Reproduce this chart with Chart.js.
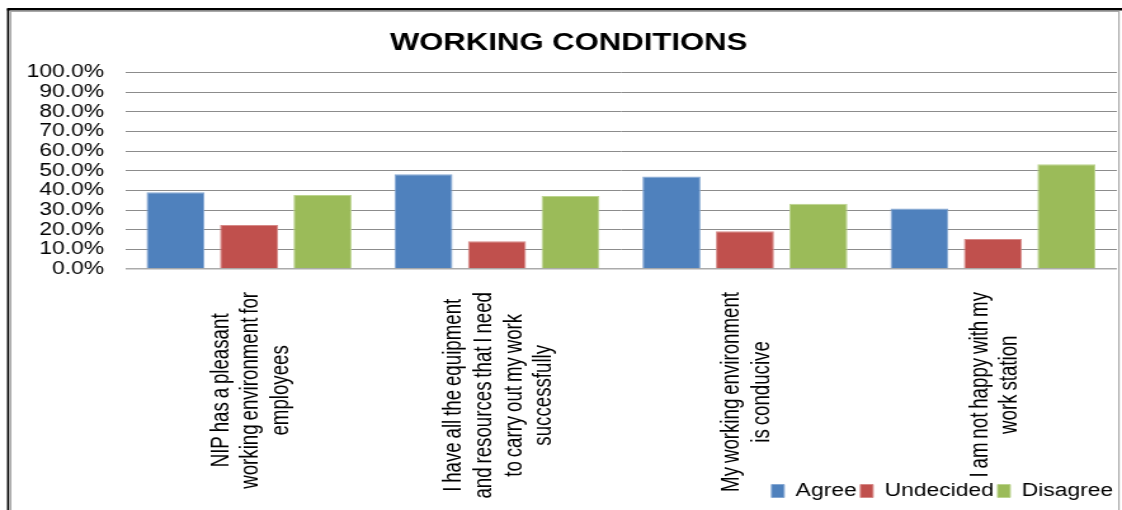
<!DOCTYPE html>
<html>
<head>
<meta charset="utf-8">
<script src="https://cdn.jsdelivr.net/npm/chart.js@4.4.1/dist/chart.umd.min.js"></script>
<style>
  html, body { margin: 0; padding: 0; background: #fff; }
  #wrap { width: 1122px; height: 510px; overflow: hidden; }
  /* the chart is laid out narrow and stretched sideways, like the exported sheet */
  #myChart { transform: scaleX(1.2692); transform-origin: 0 0; }
</style>
</head>
<body>
<div id="wrap">
  <canvas id="myChart" width="884" height="510"></canvas>
</div>
<script>
const categories = [
    ['NIP has a pleasant', 'working environment for', 'employees'],
    ['I have all the equipment', 'and resources that I need', 'to carry out my work', 'successfully'],
    ['My working environment', 'is conducive'],
    ['I am not happy with my', 'work station']
]
const agree = [39.1, 48.2, 47.1, 30.8]
const undecided = [22.4, 14.1, 19.2, 15.3]
const disagree = [37.6, 37.1, 33.2, 53.3]

const FONT = '"Liberation Sans", Arial, sans-serif'
Chart.defaults.font.family = FONT
Chart.defaults.color = '#000'

// black outer frame with a grey inner edge
const frame = {
    id: 'frame',
    beforeDraw(chart) {
        const { ctx, width, height } = chart
        ctx.save()
        ctx.fillStyle = '#fff'
        ctx.fillRect(0, 0, width, height)
        ctx.strokeStyle = '#000'
        ctx.lineWidth = 1.7
        ctx.beginPath()
        ctx.moveTo(6.4, height)
        ctx.lineTo(6.4, 9)
        ctx.stroke()
        ctx.lineWidth = 2.4
        ctx.beginPath()
        ctx.moveTo(5.5, 9.2)
        ctx.lineTo(width, 9.2)
        ctx.stroke()
        ctx.strokeStyle = '#a8a8a8'
        ctx.lineWidth = 1.1
        ctx.beginPath()
        ctx.moveTo(8.4, height)
        ctx.lineTo(8.4, 11.4)
        ctx.lineTo(881.6, 11.4)
        ctx.lineTo(881.6, height)
        ctx.stroke()
        ctx.restore()
    }
}

// vertical, centre-aligned category labels under each group (narrow lettering)
const xLabels = {
    id: 'xLabels',
    afterDraw(chart) {
        const { ctx, chartArea } = chart
        const x = chart.scales.x
        const squeeze = 0.89
        ctx.save()
        ctx.font = '21px ' + FONT
        ctx.fillStyle = '#000'
        ctx.textAlign = 'center'
        ctx.textBaseline = 'middle'
        if ('wordSpacing' in ctx) ctx.wordSpacing = '-1.5px'
        categories.forEach((lines, i) => {
            const longest = Math.max(...lines.map(l => ctx.measureText(l).width)) * squeeze
            ctx.save()
            ctx.translate(x.getPixelForTick(i) + 1.5, chartArea.bottom + 23 + longest / 2)
            ctx.rotate(-Math.PI / 2)
            ctx.scale(squeeze, 1)
            lines.forEach((line, j) => {
                ctx.fillText(line, 0, (j - (lines.length - 1) / 2) * 23.6)
            })
            ctx.restore()
        })
        ctx.restore()
    }
}

const ctx = document.getElementById('myChart').getContext('2d')
new Chart(ctx, {
    type: 'bar',
    data: {
        labels: categories,
        datasets: [{
            label: 'Agree',
            data: agree,
            backgroundColor: '#4F81BD',
            borderColor: '#86a8d3',
            borderWidth: 1
        },
        {
            label: 'Undecided',
            data: undecided,
            backgroundColor: '#C0504D',
            borderColor: '#d68987',
            borderWidth: 1
        },
        {
            label: 'Disagree',
            data: disagree,
            backgroundColor: '#9BBB59',
            borderColor: '#bcd48f',
            borderWidth: 1
        }]
    },
    options: {
        responsive: false,
        animation: false,
        devicePixelRatio: 1,
        categoryPercentage: 0.889,
        barPercentage: 0.79,
        layout: { padding: { left: 16, right: 4, top: 0, bottom: 0 } },
        plugins: {
            title: {
                display: true,
                text: 'WORKING CONDITIONS',
                color: '#000',
                font: { size: 24.5, weight: 'bold' },
                padding: { top: 28.5, bottom: 14.5 }
            },
            legend: {
                position: 'bottom',
                align: 'end',
                labels: {
                    boxWidth: 10,
                    boxHeight: 13,
                    padding: 3,
                    color: '#000',
                    font: { size: 18 }
                }
            },
            tooltip: { enabled: false }
        },
        scales: {
            x: {
                grid: { display: false },
                border: { display: false },
                ticks: { display: false },
                afterFit(scale) { scale.height = 210 }
            },
            y: {
                min: 0,
                max: 100,
                border: { display: false },
                grid: {
                    drawTicks: false,
                    color: c => c.tick.value === 0 ? '#ababab' : '#8c8c8c',
                    lineWidth: c => c.tick.value === 0 ? 1.5 : 1
                },
                ticks: {
                    stepSize: 10,
                    autoSkip: false,
                    padding: 16.5,
                    color: '#000',
                    font: { size: 18 },
                    callback(value) {
                        return value.toFixed(1) + '%'
                    }
                },
                afterFit(scale) { scale.width = 82.5 }
            }
        }
    },
    plugins: [frame, xLabels]
})
</script>
</body>
</html>
